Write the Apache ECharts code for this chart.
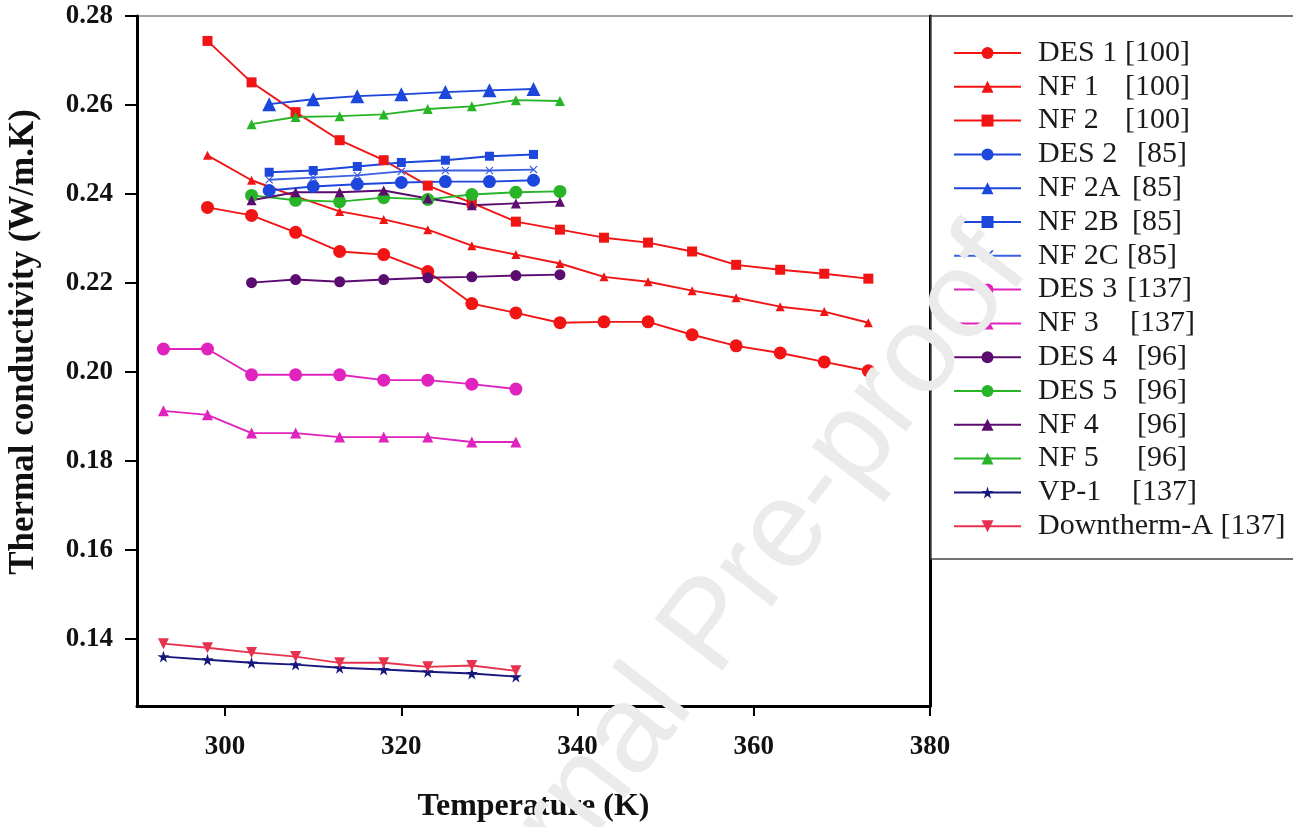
<!DOCTYPE html>
<html>
<head>
<meta charset="utf-8">
<script src="https://cdn.jsdelivr.net/npm/echarts@6/dist/echarts.min.js"></script>
<style>
html,body{margin:0;padding:0;background:#fff;}
#chart{width:1293px;height:827px;}
</style>
</head>
<body>
<div id="chart"></div>
<script>
// ---- data ----
const T_A = [298,303,308,313,318,323,328,333,338,343,348,353,358,363,368,373];
const T_B = [305,310,315,320,325,330,335];
const T_C = [303,308,313,318,323,328,333,338];
const T_D = [293,298,303,308,313,318,323,328,333];

const DES1 = [0.2370,0.2352,0.2314,0.2271,0.2264,0.2226,0.2154,0.2133,0.2111,0.2113,0.2113,0.2084,0.2059,0.2043,0.2023,0.2003];
const NF1  = [0.2487,0.2431,0.2395,0.2361,0.2343,0.2320,0.2284,0.2264,0.2244,0.2214,0.2203,0.2183,0.2167,0.2147,0.2136,0.2111];
const NF2  = [0.2744,0.2651,0.2584,0.2521,0.2476,0.2419,0.2380,0.2338,0.2320,0.2302,0.2291,0.2271,0.2241,0.2230,0.2221,0.2210];

const DES2 = [0.2408,0.2417,0.2422,0.2426,0.2428,0.2428,0.2431];
const NF2A = [0.2602,0.2613,0.2620,0.2624,0.2629,0.2633,0.2636];
const NF2B = [0.2449,0.2453,0.2462,0.2471,0.2476,0.2485,0.2489];
const NF2C = [0.2432,0.2437,0.2442,0.2451,0.2453,0.2453,0.2455];

const DES4 = [0.2201,0.2208,0.2203,0.2208,0.2212,0.2214,0.2217,0.2219];
const DES5 = [0.2397,0.2386,0.2383,0.2392,0.2388,0.2399,0.2404,0.2406];
const NF4  = [0.2386,0.2404,0.2404,0.2408,0.2390,0.2375,0.2379,0.2383];
const NF5  = [0.2557,0.2573,0.2575,0.2579,0.2591,0.2597,0.2611,0.2609];

const DES3 = [0.2052,0.2052,0.1994,0.1994,0.1994,0.1982,0.1982,0.1973,0.1962];
const NF3  = [0.1913,0.1904,0.1863,0.1863,0.1854,0.1854,0.1854,0.1843,0.1843];
const VP1  = [0.1361,0.1354,0.1347,0.1343,0.1336,0.1332,0.1327,0.1323,0.1316];
const DOWN = [0.1390,0.1381,0.1370,0.1361,0.1347,0.1347,0.1338,0.1341,0.1329];

const X_TICKS = [300,320,340,360,380];
const Y_TICKS = [0.14,0.16,0.18,0.20,0.22,0.24,0.26,0.28];

const NAMES = ['DES 1','NF 1','NF 2','DES 2','NF 2A','NF 2B','NF 2C','DES 3','NF 3','DES 4','DES 5','NF 4','NF 5','VP-1','Downtherm-A'];
const REFS  = ['[100]','[100]','[100]','[85]','[85]','[85]','[85]','[137]','[137]','[96]','[96]','[96]','[96]','[137]','[137]'];

// ---- styles ----
const RED='#f01414', BLUE='#1c46dc', BLUE2='#3a5ee0', GREEN='#27b527', MAG='#e023bd', PURP='#5c0c6e', NAVY='#16167e', CRIM='#e6324e';
const XPATH='path://M0,1L1,0L5,4L9,0L10,1L6,5L10,9L9,10L5,6L1,10L0,9L4,5Z';
const STAR='path://M50,0L61,35L98,35L68,57L79,91L50,70L21,91L32,57L2,35L39,35Z';
const nameW = [87,87,87,99,94,94,89,89,92,99,99,99,99,94,0];

function pairs(xs, ys){ return xs.map((x,i)=>[x, ys[i]]); }

const specs = [
  [T_A, DES1, RED,  'circle',   13, 0],
  [T_A, NF1,  RED,  'triangle', 9,  0],
  [T_A, NF2,  RED,  'rect',     10, 0],
  [T_B, DES2, BLUE, 'circle',   13, 0],
  [T_B, NF2A, BLUE, 'triangle', 14, 0],
  [T_B, NF2B, BLUE, 'rect',     9,  0],
  [T_B, NF2C, BLUE2, XPATH,     8,  0],
  [T_D, DES3, MAG,  'circle',   13, 0],
  [T_D, NF3,  MAG,  'triangle', 11, 0],
  [T_C, DES4, PURP, 'circle',   11, 0],
  [T_C, DES5, GREEN,'circle',   13, 0],
  [T_C, NF4,  PURP, 'triangle', 10, 0],
  [T_C, NF5,  GREEN,'triangle', 10, 0],
  [T_D, VP1,  NAVY, STAR,       12, 0],
  [T_D, DOWN, CRIM, 'triangle', 11, 180]
];

const series = specs.map((s,i)=>({
  name: NAMES[i] + ' ' + REFS[i],
  type: 'line',
  data: pairs(s[0], s[1]),
  symbol: s[3],
  symbolSize: s[4],
  symbolRotate: s[5],
  showAllSymbol: true,
  lineStyle: { color: s[2], width: 1.9 },
  itemStyle: { color: s[2], borderWidth: 0 },
  emphasis: { disabled: true },
  animation: false,
  z: 3
}));

const rich = { r: { fontFamily:'Liberation Serif', fontSize:30, color:'#1a1a1a' } };
nameW.forEach((w,i)=>{
  rich['n'+i] = { fontFamily:'Liberation Serif', fontSize:30, color:'#1a1a1a', width: w || undefined, padding:[0,0,0,12] };
});

const chart = echarts.init(document.getElementById('chart'), null, {renderer:'canvas'});
chart.setOption({
  backgroundColor:'#ffffff',
  animation:false,
  grid:{ left:137, right:363, top:16, bottom:121, outerBoundsMode:'none', containLabel:false,
         show:true, borderColor:'#444', borderWidth:1, backgroundColor:'transparent' },
  legend:{
    orient:'vertical', left:948, top:33, padding:5,
    itemWidth:67, itemHeight:15, itemGap:3.8,
    data: series.map(s=>s.name),
    formatter: function(name){
      const i = series.findIndex(s=>s.name===name);
      const nm = NAMES[i] + (nameW[i] ? '' : ' ');
      return '{n'+i+'|'+nm+'}{r|'+REFS[i]+'}';
    },
    textStyle:{ fontFamily:'Liberation Serif', fontSize:30, color:'#1a1a1a', rich: rich },
    z: 10
  },
  xAxis:{
    type:'value', min:290, max:380,
    name:'Temperature (K)', nameLocation:'middle', nameGap:85,
    nameTextStyle:{ fontFamily:'Liberation Serif', fontWeight:'bold', fontSize:32, color:'#111' },
    axisLine:{ show:true, onZero:false, lineStyle:{ color:'#000', width:3 } },
    axisTick:{ show:true, length:10, inside:false, customValues:X_TICKS, lineStyle:{ color:'#000', width:2 } },
    axisLabel:{ customValues:X_TICKS, margin:28, fontFamily:'Liberation Serif', fontWeight:'bold', fontSize:27, color:'#111' },
    splitLine:{ show:false }
  },
  yAxis:[{
    type:'value', min:0.125, max:0.28,
    name:'Thermal conductivity (W/m.K)', nameLocation:'middle', nameGap:96,
    nameTextStyle:{ fontFamily:'Liberation Serif', fontWeight:'bold', fontSize:35, color:'#111', padding:[0,0,0,38] },
    axisLine:{ show:true, onZero:false, lineStyle:{ color:'#000', width:3 } },
    axisTick:{ show:true, length:12, inside:false, customValues:Y_TICKS, lineStyle:{ color:'#000', width:2 } },
    axisLabel:{ customValues:Y_TICKS, margin:24, fontFamily:'Liberation Serif', fontWeight:'bold', fontSize:27, color:'#111', formatter:v=>v.toFixed(2) },
    splitLine:{ show:false }
  },{
    type:'value', min:0.125, max:0.28, position:'right',
    axisLine:{ show:true, onZero:false, lineStyle:{ color:'#000', width:3 } },
    axisTick:{ show:false }, axisLabel:{ show:false }, splitLine:{ show:false }
  }],
  graphic:[
    { type:'rect', z:1, shape:{ x:931, y:16, width:420, height:543 }, style:{ fill:'#fff', stroke:'#444', lineWidth:1.5 } },
    { type:'text', z:100, x:712, y:628, rotation: 52.5*Math.PI/180,
      style:{ text:'Journal Pre-proof', font:'124px "Liberation Sans"', fill:'#ebebeb', align:'center', verticalAlign:'middle' } }
  ],
  series: series
});
</script>
</body>
</html>
